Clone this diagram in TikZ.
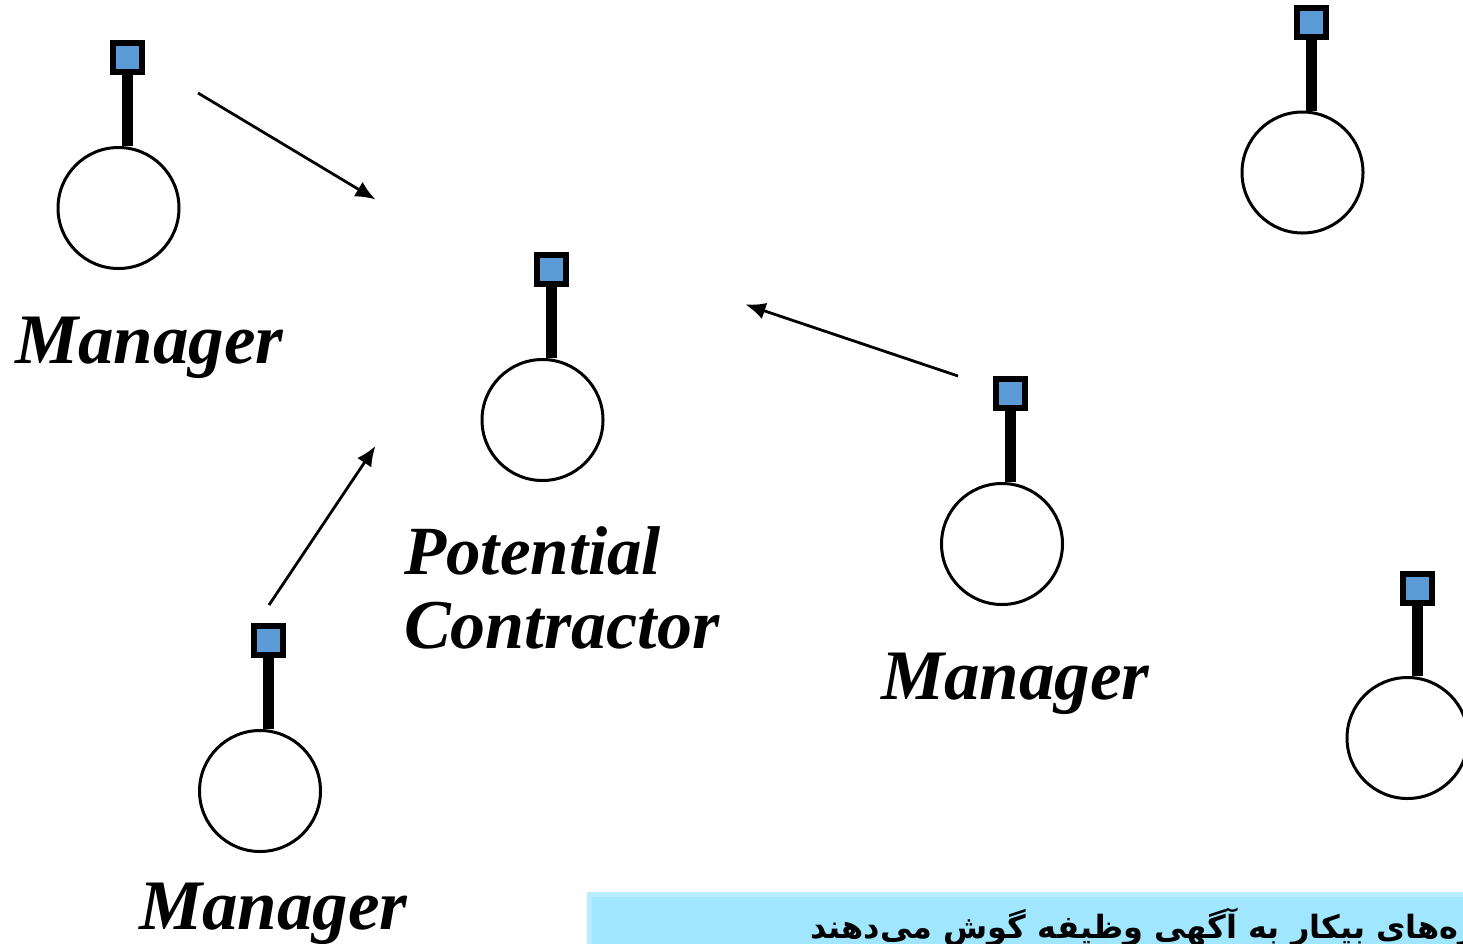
\documentclass[tikz,border=0pt]{standalone}
\usepackage{fontspec}
\usetikzlibrary{arrows.meta}
\setmainfont{Liberation Serif}
\newfontfamily\arabicfont[Script=Arabic]{DejaVu Sans}
\TeXXeTstate=1
\definecolor{portblue}{HTML}{5B9BD5}
\definecolor{notefill}{HTML}{A0E6FF}
\definecolor{noteedge}{HTML}{B8ECFF}

\tikzset{
    agent/.style={circle, draw=black, line width=3pt, fill=white, minimum size=121pt, inner sep=0pt},
    port/.style={rectangle, draw=black, line width=6pt, fill=portblue, minimum size=29pt, inner sep=0pt},
    stick/.style={line width=11pt, draw=black},
    bid/.style={line width=2.8pt, -{Latex[length=20pt, width=17pt]}},
    role/.style={font=\fontsize{71}{75}\selectfont\bfseries\itshape, inner sep=0pt, anchor=base west},
}

\begin{document}
\begin{tikzpicture}[x=1pt, y=-1pt]
        \useasboundingbox (0, 0) rectangle (1463, 943);

        \node[agent] (a) at (118.5, 208) {};
        \node[port] (pa) at (127.5, 57.5) {};
        \node[agent] (c) at (542.5, 420) {};
        \node[port] (pc) at (551.5, 269.5) {};
        \node[agent] (b) at (1002, 544) {};
        \node[port] (pb) at (1010.5, 393.5) {};
        \node[agent] (d) at (260, 791) {};
        \node[port] (pd) at (268.5, 640.5) {};
        \node[agent] (e) at (1302.5, 172.5) {};
        \node[port] (pe) at (1311, 22) {};
        \node[agent] (f) at (1407.5, 738) {};
        \node[port] (pf) at (1417, 588) {};

        \draw[stick] (pa.south) -- (pa |- a.north);
        \draw[stick] (pc.south) -- (pc |- c.north);
        \draw[stick] (pb.south) -- (pb |- b.north);
        \draw[stick] (pd.south) -- (pd |- d.north);
        \draw[stick] (pe.south) -- (pe |- e.north);
        \draw[stick] (pf.south) -- (pf |- f.north);

        \node[role] (la) at (15, 363) {Manager};
        \node[role] (lb) at (881, 699) {Manager};
        \node[role] (ld) at (139, 929) {Manager};
        \node[role, font=\fontsize{69}{75}\selectfont\bfseries\itshape] (lc) at (404, 574) {Potential};
        \node[role, font=\fontsize{70}{75}\selectfont\bfseries\itshape] (lc2) at (404, 648) {Contractor};

        \coordinate (a1) at (198, 93);
        \coordinate (a2) at (375.5, 199.5);
        \coordinate (b1) at (958, 376);
        \coordinate (b2) at (745.5, 304.5);
        \coordinate (d1) at (269, 605);
        \coordinate (d2) at (375.5, 446);
        \draw[bid] (a1) -- (a2);
        \draw[bid] (b1) -- (b2);
        \draw[bid] (d1) -- (d2);

        \node[rectangle, draw=noteedge, line width=5pt, fill=notefill, anchor=north west, minimum width=900pt, minimum height=80pt] (note) at (587, 892) {};
        \node[font=\fontsize{32}{36}\selectfont\bfseries, inner sep=0pt, anchor=base west] (notetext) at (810, 938) {\arabicfont\beginR گره‌های بیکار به آگهی وظیفه گوش می‌دهند\endR};
\end{tikzpicture}
\end{document}
